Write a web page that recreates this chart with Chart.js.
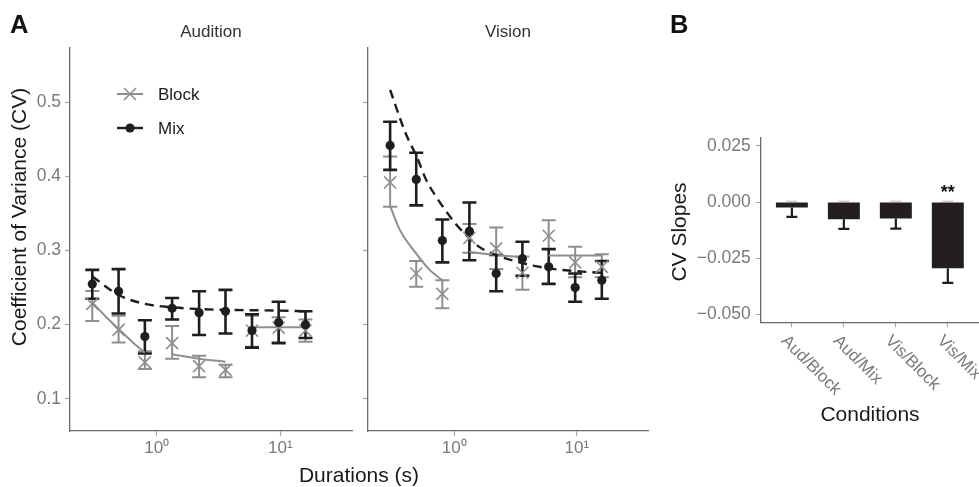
<!DOCTYPE html>
<html><head><meta charset="utf-8">
<script src="https://cdn.jsdelivr.net/npm/chart.js@4.4.1/dist/chart.umd.min.js"></script>
<style>
html,body{margin:0;padding:0;background:#fff;}
#wrap{position:relative;width:979px;height:487px;overflow:hidden;background:#fff;}
canvas{position:absolute;left:0;top:0;}
</style></head><body>
<div id="wrap">
<canvas id="cA1" width="979" height="487"></canvas>
<canvas id="cA2" width="979" height="487"></canvas>
<canvas id="cB" width="979" height="487"></canvas>
</div>
<script>
// ---------- data ----------
const durations = [0.3, 0.49, 0.8, 1.33, 2.2, 3.6, 5.9, 9.7, 16];

const audBlockCV = [0.228, 0.193, 0.149, 0.175, 0.144, 0.139, 0.192, 0.196, 0.192];
const audBlockLo = [0.205, 0.176, 0.140, 0.154, 0.129, 0.129, 0.170, 0.176, 0.177];
const audBlockHi = [0.2455, 0.212, 0.164, 0.198, 0.158, 0.146, 0.212, 0.210, 0.207];
const audMixCV = [0.255, 0.245, 0.184, 0.222, 0.216, 0.218, 0.192, 0.203, 0.200];
const audMixLo = [0.235, 0.215, 0.161, 0.207, 0.186, 0.188, 0.169, 0.175, 0.182];
const audMixHi = [0.274, 0.275, 0.206, 0.236, 0.245, 0.247, 0.214, 0.231, 0.218];

const visBlockCV = [0.392, 0.269, 0.2415, 0.317, 0.303, 0.270, 0.320, 0.284, 0.278];
const visBlockLo = [0.359, 0.251, 0.222, 0.297, 0.275, 0.247, 0.302, 0.264, 0.264];
const visBlockHi = [0.427, 0.286, 0.260, 0.336, 0.331, 0.292, 0.341, 0.305, 0.295];
const visMixCV = [0.442, 0.396, 0.3135, 0.326, 0.269, 0.289, 0.278, 0.250, 0.260];
const visMixLo = [0.409, 0.361, 0.284, 0.287, 0.245, 0.266, 0.255, 0.231, 0.235];
const visMixHi = [0.474, 0.432, 0.342, 0.365, 0.294, 0.312, 0.302, 0.269, 0.286];

// fitted curves
const audBlockFit1X = [0.3, 0.39, 0.49, 0.63, 0.8];
const audBlockFit1Y = [0.230, 0.210, 0.194, 0.177, 0.162];
const audBlockFit2X = [1.33, 2.2, 3.6];
const audBlockFit2Y = [0.160, 0.154, 0.150];
const audBlockFit3X = [5.9, 16];
const audBlockFit3Y = [0.1965, 0.1965];
const audMixFitX = [0.3, 0.49, 0.8, 1.33, 2.2, 3.6, 5.9, 9.7, 16];
const audMixFitY = [0.265, 0.240, 0.228, 0.2235, 0.221, 0.220, 0.2195, 0.219, 0.218];

const visBlockFit1X = [0.3, 0.36, 0.49, 0.63, 0.8];
const visBlockFit1Y = [0.360, 0.328, 0.296, 0.274, 0.260];
const visBlockFit2X = [1.33, 2.2, 3.6];
const visBlockFit2Y = [0.298, 0.294, 0.291];
const visBlockFit3X = [5.9, 16];
const visBlockFit3Y = [0.2935, 0.2935];
const visMixFitX = [0.3, 0.4, 0.5, 0.59, 0.71, 0.86, 1.03, 1.25, 1.6, 2.2, 3.6, 5.9, 11.2, 16];
const visMixFitY = [0.517, 0.459, 0.425, 0.3955, 0.373, 0.353, 0.336, 0.321, 0.305, 0.294, 0.283, 0.276, 0.2716, 0.270];

const yTicksA = [0.1, 0.2, 0.3, 0.4, 0.5];
const xTicksA = [1, 10];
const xTickLabelsA = ['10\u2070', '10\u00B9'];

const conditions = ['Aud/Block', 'Aud/Mix', 'Vis/Block', 'Vis/Mix'];
const cvSlopes = [-0.0024, -0.0076, -0.0073, -0.0294];
const cvSlopesErrLow = [-0.0066, -0.0119, -0.0118, -0.0360];
const sigMarks = ['', '', '', '**'];
const yTicksB = [-0.05, -0.025, 0, 0.025];
const yTickLabelsB = ['\u22120.050', '\u22120.025', '0.000', '0.025'];

// ---------- styles ----------
const FONT = "'Liberation Sans', Arial, Helvetica, sans-serif";
const GREY = '#8e8e8e';
const BLACK = '#1e1e1e';
const TICKTXT = '#7a7a7a';
const AXIS = '#6a6a6a';
const TICKMARK = '#a8a8a8';
Chart.defaults.font.family = FONT;

const pts = (xs, ys) => xs.map((x, i) => ({x: x, y: ys[i]}));

const errorBarPlugin = {
  id: 'errbars',
  beforeDatasetsDraw(chart) {
    const ctx = chart.ctx, xs = chart.scales.x, ys = chart.scales.y;
    chart.data.datasets.forEach(ds => {
      if (!ds.errLo) return;
      ctx.save();
      ctx.strokeStyle = ds.errColor;
      ctx.lineWidth = ds.errWidth;
      const cap = 7;
      ds.data.forEach((p, i) => {
        const x = xs.getPixelForValue(p.x);
        const y1 = ys.getPixelForValue(ds.errLo[i]);
        const y2 = ys.getPixelForValue(ds.errHi[i]);
        ctx.beginPath();
        ctx.moveTo(x, y1); ctx.lineTo(x, y2);
        ctx.moveTo(x - cap, y1); ctx.lineTo(x + cap, y1);
        ctx.moveTo(x - cap, y2); ctx.lineTo(x + cap, y2);
        ctx.stroke();
      });
      ctx.restore();
    });
  }
};

function textPlugin(drawFn) {
  return { id: 'txt' + Math.random().toString(36).slice(2), afterDraw(chart) { const c = chart.ctx; c.save(); drawFn(chart, c); c.restore(); } };
}

function panelA(canvasId, padLeft, padRight, yWidth, showYLabels, cfg, extraDraw) {
  const datasets = [
    {label: 'blockFit1', data: pts(cfg.bf1x, cfg.bf1y), showLine: true, borderColor: GREY, borderWidth: 2, pointRadius: 0, cubicInterpolationMode: 'monotone', order: 4},
    {label: 'blockFit2', data: pts(cfg.bf2x, cfg.bf2y), showLine: true, borderColor: GREY, borderWidth: 2, pointRadius: 0, cubicInterpolationMode: 'monotone', order: 4},
    {label: 'blockFit3', data: pts(cfg.bf3x, cfg.bf3y), showLine: true, borderColor: GREY, borderWidth: 2, pointRadius: 0, order: 4},
    {label: 'mixFit', data: pts(cfg.mfx, cfg.mfy), showLine: true, borderColor: BLACK, borderWidth: 2.4, borderDash: [9, 6], pointRadius: 0, cubicInterpolationMode: 'monotone', order: 3},
    {label: 'Block', data: pts(durations, cfg.bcv), errLo: cfg.blo, errHi: cfg.bhi, errColor: GREY, errWidth: 2,
      showLine: false, pointStyle: 'crossRot', pointRadius: 8.5, borderColor: GREY, backgroundColor: GREY, pointBorderWidth: 1.6, order: 1},
    {label: 'Mix', data: pts(durations, cfg.mcv), errLo: cfg.mlo, errHi: cfg.mhi, errColor: BLACK, errWidth: 2.6,
      showLine: false, pointStyle: 'circle', pointRadius: 4.6, borderColor: BLACK, backgroundColor: BLACK, pointBorderWidth: 0, order: 0}
  ];
  return new Chart(document.getElementById(canvasId), {
    type: 'scatter',
    data: {datasets},
    options: {
      responsive: false, animation: false, devicePixelRatio: 1,
      layout: {padding: {left: padLeft, right: padRight, top: 48, bottom: 0}},
      plugins: {legend: {display: false}, tooltip: {enabled: false}},
      scales: {
        x: {
          type: 'logarithmic', min: 0.198, max: 38.1,
          afterBuildTicks: s => { s.ticks = xTicksA.map(v => ({value: v})); },
          afterFit: s => { s.height = 56; },
          ticks: {color: TICKTXT, font: {size: 17}, padding: 2.5, maxRotation: 0, autoSkip: false,
            callback: (v) => { const k = xTicksA.indexOf(v); return k >= 0 ? xTickLabelsA[k] : ''; }},
          grid: {display: true, drawOnChartArea: false, drawTicks: true, tickLength: 5, tickColor: TICKMARK, tickWidth: 1.2},
          border: {display: true, color: AXIS, width: 1.3}
        },
        y: {
          type: 'linear', min: 0.0564, max: 0.5735,
          afterBuildTicks: s => { s.ticks = yTicksA.map(v => ({value: v})); },
          afterFit: s => { s.width = yWidth; },
          ticks: {color: TICKTXT, font: {size: 17.5}, padding: 4,
            callback: v => showYLabels ? v.toFixed(1) : ''},
          grid: {display: true, drawOnChartArea: false, drawTicks: true, tickLength: 5, tickColor: TICKMARK, tickWidth: 1.2},
          border: {display: true, color: AXIS, width: 1.3}
        }
      }
    },
    plugins: [errorBarPlugin, textPlugin(extraDraw)]
  });
}

// Audition panel
panelA('cA1', 0, 627, 70, true, {
  bf1x: audBlockFit1X, bf1y: audBlockFit1Y, bf2x: audBlockFit2X, bf2y: audBlockFit2Y, bf3x: audBlockFit3X, bf3y: audBlockFit3Y,
  mfx: audMixFitX, mfy: audMixFitY,
  bcv: audBlockCV, blo: audBlockLo, bhi: audBlockHi, mcv: audMixCV, mlo: audMixLo, mhi: audMixHi
}, (chart, c) => {
  const ca = chart.chartArea;
  c.fillStyle = '#111';
  c.font = 'bold 25.5px ' + FONT;
  c.textAlign = 'left'; c.textBaseline = 'alphabetic';
  c.fillText('A', 10, 33.3);
  c.fillStyle = '#333';
  c.font = '17px ' + FONT;
  c.textAlign = 'center';
  c.fillText('Audition', (ca.left + ca.right) / 2, 37.3);
  c.save();
  c.translate(25.5, 217);
  c.rotate(-Math.PI / 2);
  c.fillStyle = '#1a1a1a';
  c.font = '21px ' + FONT;
  c.textAlign = 'center';
  c.fillText('Coefficient of Variance (CV)', 0, 0);
  c.restore();
  c.fillStyle = '#1a1a1a';
  c.font = '21px ' + FONT;
  c.textAlign = 'center';
  c.fillText('Durations (s)', 359, 482);
  // legend
  c.lineWidth = 2; c.strokeStyle = GREY;
  c.beginPath(); c.moveTo(117, 94); c.lineTo(143, 94); c.stroke();
  c.lineWidth = 1.6;
  c.beginPath(); c.moveTo(124, 88); c.lineTo(136, 100); c.moveTo(136, 88); c.lineTo(124, 100); c.stroke();
  c.lineWidth = 2.4; c.strokeStyle = BLACK;
  c.beginPath(); c.moveTo(117, 128); c.lineTo(143, 128); c.stroke();
  c.fillStyle = BLACK;
  c.beginPath(); c.arc(130, 128, 4.6, 0, Math.PI * 2); c.fill();
  c.fillStyle = '#1a1a1a';
  c.font = '17px ' + FONT;
  c.textAlign = 'left';
  c.fillText('Block', 158, 100);
  c.fillText('Mix', 158, 134);
});

// Vision panel
panelA('cA2', 360, 331, 8, false, {
  bf1x: visBlockFit1X, bf1y: visBlockFit1Y, bf2x: visBlockFit2X, bf2y: visBlockFit2Y, bf3x: visBlockFit3X, bf3y: visBlockFit3Y,
  mfx: visMixFitX, mfy: visMixFitY,
  bcv: visBlockCV, blo: visBlockLo, bhi: visBlockHi, mcv: visMixCV, mlo: visMixLo, mhi: visMixHi
}, (chart, c) => {
  const ca = chart.chartArea;
  c.fillStyle = '#333';
  c.font = '17px ' + FONT;
  c.textAlign = 'center'; c.textBaseline = 'alphabetic';
  c.fillText('Vision', (ca.left + ca.right) / 2, 37.3);
});

// Panel B
const barExtras = {
  id: 'barExtras',
  afterDatasetsDraw(chart) {
    const c = chart.ctx, xs = chart.scales.x, ys = chart.scales.y;
    c.save();
    cvSlopes.forEach((v, i) => {
      const x = xs.getPixelForValue(i + 1);
      const yb = ys.getPixelForValue(v);
      const ye = ys.getPixelForValue(cvSlopesErrLow[i]);
      const y0 = ys.getPixelForValue(0);
      c.strokeStyle = BLACK; c.lineWidth = 2.2;
      c.beginPath(); c.moveTo(x, yb); c.lineTo(x, ye);
      c.moveTo(x - 5.5, ye); c.lineTo(x + 5.5, ye); c.stroke();
      c.strokeStyle = '#c4c4c4'; c.lineWidth = 1.2;
      c.beginPath(); c.moveTo(x - 5.5, y0 - 0.8); c.lineTo(x + 5.5, y0 - 0.8); c.stroke();
      if (sigMarks[i]) {
        c.fillStyle = '#111';
        c.font = 'bold 18px ' + FONT;
        c.textAlign = 'center'; c.textBaseline = 'alphabetic';
        c.fillText(sigMarks[i], x, 198);
      }
    });
    c.restore();
  },
  afterDraw(chart) {
    const c = chart.ctx, xs = chart.scales.x, ys = chart.scales.y;
    c.save();
    c.fillStyle = TICKTXT;
    c.font = '17px ' + FONT;
    c.textAlign = 'left'; c.textBaseline = 'middle';
    conditions.forEach((lab, i) => {
      const x = xs.getPixelForValue(i + 1);
      c.save();
      c.translate(x - 8, ys.bottom + 16);
      c.rotate(Math.PI / 4);
      c.fillText(lab, 0, 0);
      c.restore();
    });
    c.fillStyle = '#111';
    c.font = 'bold 25.5px ' + FONT;
    c.textAlign = 'left'; c.textBaseline = 'alphabetic';
    c.fillText('B', 670, 33.3);
    c.fillStyle = '#1a1a1a';
    c.font = '21px ' + FONT;
    c.textAlign = 'center';
    c.fillText('Conditions', 870, 421);
    c.save();
    c.translate(686, 232);
    c.rotate(-Math.PI / 2);
    c.fillText('CV Slopes', 0, 0);
    c.restore();
    c.restore();
  }
};

new Chart(document.getElementById('cB'), {
  type: 'bar',
  data: {
    datasets: [{
      label: 'CV Slopes',
      data: cvSlopes.map((v, i) => ({x: i + 1, y: v})),
      backgroundColor: '#231f20',
      borderWidth: 0,
      barPercentage: 0.615,
      categoryPercentage: 1
    }]
  },
  options: {
    responsive: false, animation: false, devicePixelRatio: 1,
    layout: {padding: {left: 660, right: 0, top: 138, bottom: 0}},
    plugins: {legend: {display: false}, tooltip: {enabled: false}},
    scales: {
      x: {
        type: 'linear', min: 0.4, max: 4.6, offset: false,
        afterBuildTicks: s => { s.ticks = conditions.map((c, i) => ({value: i + 1})); },
        afterFit: s => { s.height = 164.7; },
        ticks: {callback: () => '', autoSkip: false},
        grid: {display: true, offset: false, drawOnChartArea: false, drawTicks: true, tickLength: 5, tickColor: TICKMARK, tickWidth: 1.2},
        border: {display: true, color: AXIS, width: 1.3}
      },
      y: {
        type: 'linear', min: -0.0535, max: 0.0285,
        afterBuildTicks: s => { s.ticks = yTicksB.map(v => ({value: v})); },
        afterFit: s => { s.width = 100.7; },
        ticks: {color: TICKTXT, font: {size: 17.5}, padding: 5,
          callback: v => { const k = yTicksB.findIndex(t => Math.abs(t - v) < 1e-9); return k >= 0 ? yTickLabelsB[k] : ''; }},
        grid: {display: true, drawOnChartArea: false, drawTicks: true, tickLength: 5, tickColor: TICKMARK, tickWidth: 1.2},
        border: {display: true, color: AXIS, width: 1.3}
      }
    }
  },
  plugins: [barExtras]
});
</script>
</body></html>
